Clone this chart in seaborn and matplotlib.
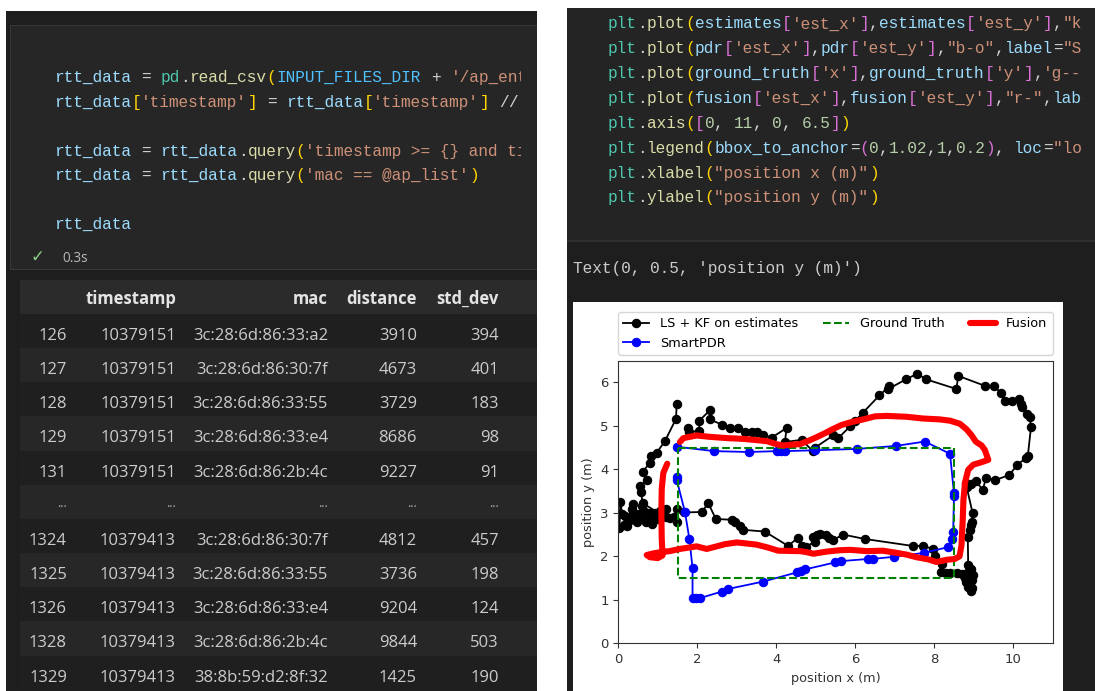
import re
import matplotlib
matplotlib.use("Agg")
import matplotlib.pyplot as plt
from matplotlib.patches import Rectangle
import seaborn as sns

W, H = 1095, 691

# ---------------- notebook text ----------------
left_code = [
    "rtt_data = pd.read_csv(INPUT_FILES_DIR + '/ap_entries.csv')",
    "rtt_data['timestamp'] = rtt_data['timestamp'] // 1000",
    "",
    "rtt_data = rtt_data.query('timestamp >= {} and timestamp <= {}'.format(t0, t1))",
    "rtt_data = rtt_data.query('mac == @ap_list')",
    "",
    "rtt_data",
]
right_code = [
    'plt.plot(estimates[\'est_x\'],estimates[\'est_y\'],"k-o",label="LS + KF on estimates")',
    'plt.plot(pdr[\'est_x\'],pdr[\'est_y\'],"b-o",label="SmartPDR")',
    "plt.plot(ground_truth['x'],ground_truth['y'],'g--',label=\"Ground Truth\")",
    'plt.plot(fusion[\'est_x\'],fusion[\'est_y\'],"r-",label="Fusion",linewidth=4)',
    "plt.axis([0, 11, 0, 6.5])",
    'plt.legend(bbox_to_anchor=(0,1.02,1,0.2), loc="lower left", mode="expand", ncol=3)',
    'plt.xlabel("position x (m)")',
    'plt.ylabel("position y (m)")',
]
cell_output = "Text(0, 0.5, 'position y (m)')"
exec_time = "0.3s"

# ---------------- dataframe preview ----------------
col_names = ["timestamp", "mac", "distance", "std_dev"]
row_index = ["126", "127", "128", "129", "131", "...", "1324", "1325", "1326", "1328", "1329"]
timestamps = ["10379151"] * 5 + ["..."] + ["10379413"] * 5
macs = ["3c:28:6d:86:33:a2", "3c:28:6d:86:30:7f", "3c:28:6d:86:33:55", "3c:28:6d:86:33:e4",
        "3c:28:6d:86:2b:4c", "...", "3c:28:6d:86:30:7f", "3c:28:6d:86:33:55",
        "3c:28:6d:86:33:e4", "3c:28:6d:86:2b:4c", "38:8b:59:d2:8f:32"]
distances = ["3910", "4673", "3729", "8686", "9227", "...", "4812", "3736", "9204", "9844", "1425"]
std_devs = ["394", "401", "183", "98", "91", "...", "457", "198", "124", "503", "190"]

# ---------------- trajectories ----------------
est_x = [1.77, 1.80, 2.05, 2.05, 2.32, 2.32, 2.62, 2.83, 3.04, 3.21, 3.38, 3.50, 3.67, 3.88,
         4.26, 4.22, 4.64, 4.93, 4.98, 5.44, 5.57, 5.87, 5.99, 6.19, 6.61, 6.86, 6.84, 7.28,
         7.57, 7.80, 8.56, 8.61, 9.29, 9.52, 9.68, 9.80, 9.98, 10.15, 10.20, 10.22, 10.36,
         10.42, 10.45, 10.37, 10.33, 10.10, 9.90, 9.53, 9.31, 9.23, 9.05, 8.93, 8.84, 8.80,
         8.97, 8.96, 8.93, 8.90, 8.85, 8.86, 8.92, 8.82, 8.97, 8.88, 8.95, 8.80, 8.90, 8.96,
         8.92, 8.85, 8.78, 8.70, 8.57, 8.40, 8.30, 8.18, 8.19, 8.02, 7.97, 7.72, 7.45, 6.24,
         5.70, 5.44, 5.34, 5.26, 5.12, 5.04, 4.94, 4.98, 4.75, 4.65, 4.54, 4.30, 3.71, 3.16,
         3.08, 2.95, 2.89, 2.47, 2.28, 2.11, 1.66, 1.48, 1.40, 1.48, 1.30, 1.22, 1.10, 1.00,
         0.92, 0.85, 0.78, 0.68, 0.60, 0.55, 0.48, 0.42, 0.35, 0.30, 0.22, 0.18, 0.10, 0.05,
         0.03, 0.15, 0.25, 0.38, 0.45, 0.58, 0.70, 0.80, 0.95, 1.05, 1.20, 0.62, 0.57, 0.55,
         0.72, 0.62, 0.80, 0.84, 0.97, 1.18, 1.46, 1.48]
est_y = [4.95, 4.87, 4.88, 5.12, 5.36, 5.15, 5.03, 4.95, 4.95, 4.87, 4.85, 4.87, 4.80, 4.73,
         4.95, 4.63, 4.68, 4.42, 4.50, 4.78, 4.72, 4.99, 5.11, 5.30, 5.70, 5.91, 5.85, 6.07,
         6.20, 6.07, 5.85, 6.15, 5.92, 5.92, 5.76, 5.57, 5.58, 5.62, 5.50, 5.44, 5.28,
         5.20, 4.97, 4.31, 4.27, 4.10, 3.87, 3.75, 3.80, 3.53, 3.73, 3.66, 3.60, 3.68,
         3.00, 2.80, 2.72, 2.60, 2.45, 1.80, 1.70, 1.62, 1.58, 1.52, 1.45, 1.40, 1.35, 1.28,
         1.21, 1.30, 1.50, 1.60, 1.62, 1.62, 1.61, 1.63, 1.83, 2.00, 2.17, 2.24, 2.24, 2.40,
         2.50, 2.38, 2.42, 2.49, 2.52, 2.50, 2.45, 2.34, 2.22, 2.24, 2.42, 2.24, 2.57, 2.61,
         2.69, 2.78, 2.84, 2.86, 3.22, 3.02, 3.01, 3.10, 2.90, 2.78, 2.88, 3.08, 2.95, 2.86,
         3.00, 2.74, 2.86, 3.03, 3.15, 2.98, 2.78, 2.94, 3.10, 2.84, 2.70, 2.92, 2.98, 3.25,
         2.65, 2.72, 2.88, 3.20, 2.98, 2.88, 2.80, 3.00, 2.92, 3.05, 2.90, 3.22, 3.49, 3.61,
         3.76, 3.95, 4.15, 4.30, 4.38, 4.65, 5.16, 5.51]

pdr_x = [1.49, 2.43, 3.30, 4.01, 4.12, 4.22, 4.98, 6.04, 7.03, 7.76, 8.40, 8.50, 8.50, 8.48,
         8.44, 8.34, 7.74, 6.98, 6.44, 6.33, 5.63, 5.49, 4.73, 4.62, 4.52, 3.67, 2.78, 2.62,
         2.07, 1.97, 1.88, 1.88, 1.80, 1.69, 1.48, 1.48]
pdr_y = [4.52, 4.42, 4.40, 4.42, 4.42, 4.42, 4.44, 4.47, 4.54, 4.64, 4.36, 3.45, 3.38, 2.57,
         2.40, 2.21, 2.08, 1.99, 1.94, 1.94, 1.89, 1.86, 1.70, 1.66, 1.63, 1.42, 1.25, 1.19,
         1.04, 1.04, 1.04, 1.73, 2.40, 3.01, 3.76, 3.82]

gt_x = [1.5, 8.5, 8.5, 1.5, 1.5]
gt_y = [4.5, 4.5, 1.5, 1.5, 4.5]

fusion_x = [1.56, 1.65, 1.98, 2.30, 2.74, 3.20, 3.76, 4.00, 4.18, 4.40, 4.60, 4.82, 5.02, 5.25,
            5.44, 5.65, 5.87, 6.20, 6.50, 6.80, 7.30, 7.72, 8.14, 8.40, 8.65, 8.82, 8.95, 9.05,
            9.20, 9.28, 9.37, 9.18, 8.99, 8.86, 8.78, 8.74, 8.72, 8.69, 8.64, 8.52, 8.31, 8.06,
            7.85, 7.55, 7.30, 7.05, 6.70, 6.29, 5.87, 5.60, 5.28, 4.94, 4.75, 4.60, 4.05, 3.80,
            3.50, 3.00, 2.70, 2.45, 2.24, 1.98, 1.56, 1.30, 1.10, 0.90, 0.72, 0.80, 1.00, 1.12,
            1.10, 1.09, 1.10, 1.14, 1.24]
fusion_y = [4.63, 4.72, 4.78, 4.75, 4.72, 4.70, 4.65, 4.58, 4.55, 4.57, 4.58, 4.66, 4.74, 4.84,
            4.93, 5.02, 5.08, 5.15, 5.22, 5.23, 5.21, 5.17, 5.15, 5.12, 5.05, 4.92, 4.78, 4.64,
            4.55, 4.45, 4.22, 4.16, 4.11, 3.99, 3.70, 3.30, 2.80, 2.25, 2.00, 1.94, 1.92, 1.87,
            1.93, 1.98, 2.04, 2.08, 2.13, 2.12, 2.15, 2.14, 2.11, 2.06, 2.10, 2.12, 2.13, 2.20,
            2.27, 2.32, 2.28, 2.22, 2.17, 2.23, 2.17, 2.12, 2.10, 2.07, 2.03, 1.98, 1.96, 2.02,
            2.40, 3.00, 3.55, 3.92, 4.13]

# ---------------- editor colours ----------------
VAR, CONST, FUNC, CLS = "#9CDCFE", "#4FC1FF", "#DCDCAA", "#4EC9B0"
STR, NUM, OP = "#CE9178", "#B5CEA8", "#D4D4D4"
BRACKETS = ["#FFD700", "#DA70D6", "#179FFF"]
MONO = "Liberation Mono"
UI = "Open Sans"
CHAR_W = 9.67
CODE_PT = 11.6

TOKEN_RE = re.compile(r"""('[^']*'|"[^"]*")|(\d+\.?\d*)|([A-Za-z_]\w*)|(\s+)|(.)""")


def highlight(line):
    out, depth = [], 0
    for m in TOKEN_RE.finditer(line):
        s, num, ident, ws, ch = m.groups()
        if s:
            c = STR
        elif num:
            c = NUM
        elif ident:
            nxt = line[m.end():m.end() + 1]
            if ident in ("pd", "plt"):
                c = CLS
            elif nxt == "(":
                c = FUNC
            elif ident.isupper():
                c = CONST
            else:
                c = VAR
        elif ws:
            c = OP
        elif ch in "([{":
            c = BRACKETS[depth % 3]
            depth += 1
        elif ch in ")]}":
            depth -= 1
            c = BRACKETS[depth % 3]
        else:
            c = OP
        out.append((m.start(), m.group(), c))
    return out


def draw_code(ax, x0, baseline, line, x_max):
    for col, tok, c in highlight(line):
        x = x0 + col * CHAR_W
        if tok.strip() and x < x_max:
            ax.text(x, baseline, tok, color=c, family=MONO, fontsize=CODE_PT,
                    va="baseline", ha="left", clip_on=True)


fig = plt.figure(figsize=(W / 100, H / 100), dpi=100)
fig.patch.set_facecolor("white")

bg = fig.add_axes([0, 0, 1, 1])
bg.set_xlim(0, W)
bg.set_ylim(H, 0)
bg.axis("off")


def box(x0, y0, x1, y1, fc):
    bg.add_patch(Rectangle((x0, y0), x1 - x0, y1 - y0, facecolor=fc, edgecolor="none"))


def pixel_axes(x0, y0, x1, y1):
    a = fig.add_axes([x0 / W, 1 - y1 / H, (x1 - x0) / W, (y1 - y0) / H])
    a.set_xlim(x0, x1)
    a.set_ylim(y1, y0)
    a.axis("off")
    return a


# left notebook pane
box(6, 11, 537, H, "#1e1e1e")
box(10, 25, 537, 270, "#383838")          # cell outline
box(11, 26, 537, 269, "#262626")          # cell body
box(20, 280, 537, 314, "#2b2b2b")         # table header
row_top0, row_h = 314, 34.15
for i in range(len(row_index)):
    box(20, row_top0 + i * row_h, 537, row_top0 + (i + 1) * row_h,
        "#1f1f1f" if i % 2 == 0 else "#272727")

# right notebook pane
box(567, 8, W, 240, "#242424")
box(567, 240, W, 241.5, "#2e2e2e")
box(567, 241.5, W, H, "#1e1e1e")
box(573, 302, 1063, H, "white")

left_code_ax = pixel_axes(11, 26, 521, 269)
for k, line in enumerate(left_code):
    draw_code(left_code_ax, 54, 82 + k * 24.55, line, 521)
left_code_ax.text(37, 262, "\u2713", color="#89D185", family="DejaVu Sans", fontsize=12,
                  va="baseline", ha="center")
left_code_ax.text(62, 262, exec_time, color="#b8b8b8", family=UI, fontsize=9.8,
                  va="baseline", ha="left")

table_ax = pixel_axes(6, 275, 537, H)
col_right = [67, 176, 328, 417, 499]
for name, xr in zip(col_names, col_right[1:]):
    table_ax.text(xr, 303.5, name, color="#e4e4e4", family=UI, fontsize=12, fontweight="bold",
                  va="baseline", ha="right", clip_on=True)
table_cols = [row_index, timestamps, macs, distances, std_devs]
for i in range(len(row_index)):
    base = 340 + i * row_h
    for vals, xr in zip(table_cols, col_right):
        v = vals[i]
        table_ax.text(xr, base - (4 if v == "..." else 0), v,
                      color="#a8a8a8" if v == "..." else "#cccccc", family=UI,
                      fontsize=9 if v == "..." else 12, va="baseline", ha="right",
                      clip_on=True)

right_code_ax = pixel_axes(567, 8, 1082, 240)
for k, line in enumerate(right_code):
    draw_code(right_code_ax, 608, 28.5 + k * 24.85, line, 1082)
out_ax = pixel_axes(567, 242, W, 300)
out_ax.text(573, 272.5, cell_output, color="#cccccc", family=MONO, fontsize=CODE_PT,
            va="baseline", ha="left")

# ---------------- trajectory plot ----------------
ax = fig.add_axes([618.3 / W, 1 - 643.3 / H, 434.4 / W, 282.6 / H])
ax.set_facecolor("white")
sns.lineplot(x=est_x, y=est_y, sort=False, estimator=None, color="k", marker="o",
             markersize=6, markeredgecolor="k", markeredgewidth=0.8, linewidth=1.3,
             label="LS + KF on estimates", ax=ax)
sns.lineplot(x=pdr_x, y=pdr_y, sort=False, estimator=None, color="b", marker="o",
             markersize=6, markeredgecolor="b", markeredgewidth=0.8, linewidth=1.3,
             label="SmartPDR", ax=ax)
sns.lineplot(x=gt_x, y=gt_y, sort=False, estimator=None, color="g", linestyle="--",
             linewidth=1.5, label="Ground Truth", ax=ax)
sns.lineplot(x=fusion_x, y=fusion_y, sort=False, estimator=None, color="r", linewidth=4.4,
             solid_capstyle="round", solid_joinstyle="round", label="Fusion", ax=ax)
ax.set_xlim(0, 11)
ax.set_ylim(0, 6.5)
ax.set_xlabel("position x (m)", fontsize=9.3, color="#333333")
ax.set_ylabel("position y (m)", fontsize=9.3, color="#333333")
ax.tick_params(labelsize=9.5, labelcolor="#333333", color="#333333")
for sp in ax.spines.values():
    sp.set_color("#333333")
ax.legend(bbox_to_anchor=(0, 1.02, 1, 0.2), loc="lower left", mode="expand", ncol=3,
          fontsize=9.3, borderaxespad=0)

fig.savefig("out.png", dpi=100)
